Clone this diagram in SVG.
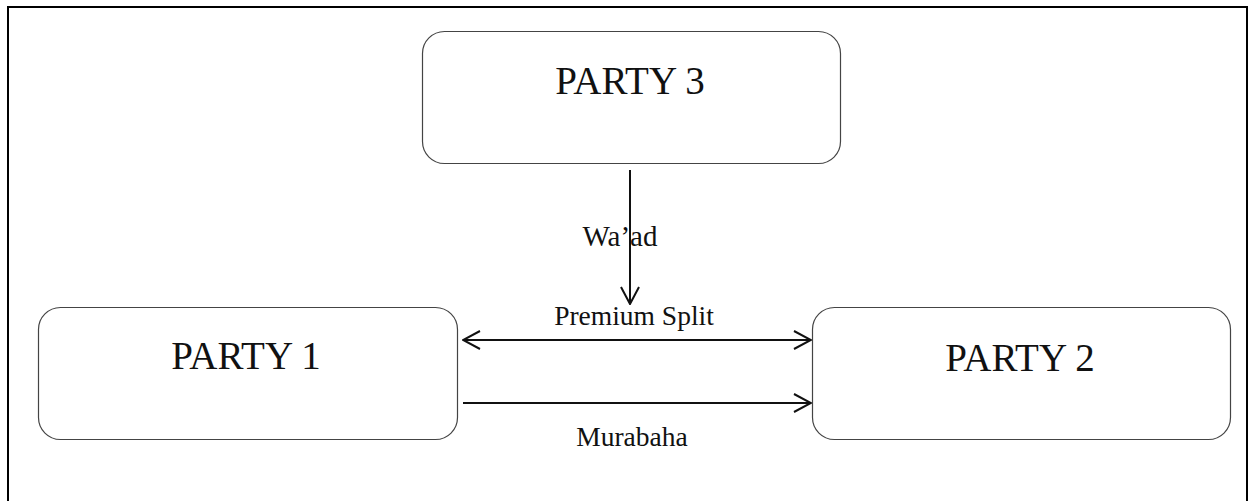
<svg xmlns="http://www.w3.org/2000/svg" width="1253" height="501" viewBox="0 0 1253 501">
<defs>
<style>
.box{fill:#fff;stroke:#444;stroke-width:1.2}
.t{font-family:"Liberation Serif",serif;fill:#111;text-anchor:middle}
.big{font-size:39px}
.lbl{font-size:27.5px}
.c{stroke:#111;stroke-width:2;fill:none}
</style>
<marker id="ah" viewBox="0 0 20 20" refX="19" refY="10" markerWidth="20" markerHeight="20" markerUnits="userSpaceOnUse" orient="auto-start-reverse">
<path d="M2,1 L19,10 L2,19" fill="none" stroke="#111" stroke-width="2"/>
</marker>
</defs>
<rect width="1253" height="501" fill="#fff"/>
<path d="M8,510 V7 H1247 V510" fill="none" stroke="#000" stroke-width="2"/>
<g id="party3"><rect class="box" x="422.5" y="31.5" width="418" height="132" rx="22"/><text class="t big" x="630" y="94">PARTY 3</text></g>
<g id="party1"><rect class="box" x="38.5" y="307.5" width="419" height="132" rx="22"/><text class="t big" x="246" y="369">PARTY 1</text></g>
<g id="party2"><rect class="box" x="812.5" y="307.5" width="418" height="132" rx="22"/><text class="t big" x="1020" y="371">PARTY 2</text></g>
<g id="connectors">
<line class="c" x1="630" y1="170" x2="630" y2="304" marker-end="url(#ah)"/>
<line class="c" x1="463" y1="340" x2="811" y2="340" marker-start="url(#ah)" marker-end="url(#ah)"/>
<line class="c" x1="463" y1="403" x2="811" y2="403" marker-end="url(#ah)"/>
<text class="t lbl" x="620" y="246" style="font-size:29px">Wa’ad</text>
<text class="t lbl" x="634" y="325">Premium Split</text>
<text class="t lbl" x="632" y="446">Murabaha</text>
</g>
</svg>
